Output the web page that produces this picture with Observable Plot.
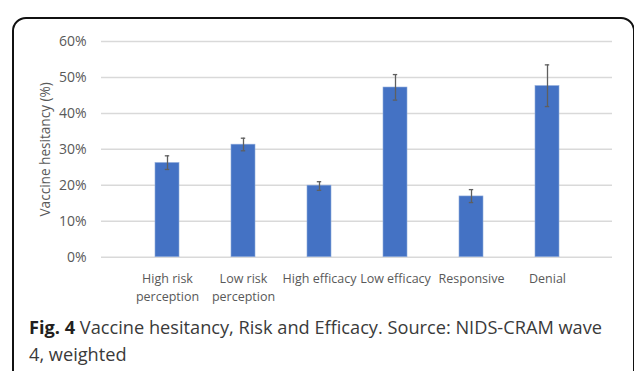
<!DOCTYPE html>
<html>
<head>
<meta charset="utf-8">
<script src="https://cdn.jsdelivr.net/npm/d3@7"></script>
<script src="https://cdn.jsdelivr.net/npm/@observablehq/plot@0.6"></script>
<style>
  html, body { margin: 0; padding: 0; background: #fff; }
  #wrap { position: relative; width: 634px; height: 371px; overflow: hidden; font-family: "Open Sans", sans-serif; }
  #frame { position: absolute; left: 12px; top: 17px; width: 619px; height: 420px; border: 2px solid #111; border-radius: 14px; }
  #chart { position: absolute; left: 0; top: 0; }
  #caption { position: absolute; left: 29px; top: 314px; width: 600px; font-size: 18.2px; line-height: 27px; color: #3a3a3a; white-space: nowrap; }
  #caption b { color: #231f20; }
</style>
</head>
<body>
<div id="wrap">
  <div id="frame"></div>
  <div id="chart"></div>
  <div id="caption"><div><b>Fig. 4</b> <span>Vaccine hesitancy, Risk and Efficacy. Source: NIDS-CRAM wave</span></div><div>4, weighted</div></div>
</div>
<script>
const categories = ["High risk perception", "Low risk perception", "High efficacy", "Low efficacy", "Responsive", "Denial"];
const tickLabels = ["High risk\nperception", "Low risk\nperception", "High efficacy", "Low efficacy", "Responsive", "Denial"];
const values = [26.2, 31.3, 19.9, 47.2, 16.9, 47.6];
const errLow = [24.4, 29.6, 18.6, 43.7, 15.2, 41.9];
const errHigh = [28.2, 33.1, 21.0, 50.8, 18.8, 53.5];
const yTicks = [0, 10, 20, 30, 40, 50, 60];

const data = categories.map((c, i) => ({cat: c, v: values[i], lo: errLow[i], hi: errHigh[i]}));
const labelOf = new Map(categories.map((c, i) => [c, tickLabels[i]]));

const chart = Plot.plot({
  width: 634,
  height: 310,
  marginLeft: 101,
  marginRight: 22,
  marginTop: 41,
  marginBottom: 53.3,
  style: {fontFamily: "Open Sans, sans-serif", fontSize: "13px", color: "#595959", background: "transparent"},
  x: {domain: categories, padding: 0.686},
  y: {domain: [0, 60]},
  marks: [
    Plot.ruleY(yTicks, {stroke: "#d9d9d9", strokeWidth: 1.5}),
    Plot.barY(data, {x: "cat", y: "v", fill: "#4472c4", stroke: "#8eaadb", strokeWidth: 0.6}),
    Plot.ruleX(data, {x: "cat", y1: "lo", y2: "hi", stroke: "#5f5f5f", strokeWidth: 1.3}),
    Plot.tickY(data, {x: "cat", y: "lo", stroke: "#5f5f5f", strokeWidth: 1.3, insetLeft: 9.8, insetRight: 9.8}),
    Plot.tickY(data, {x: "cat", y: "hi", stroke: "#5f5f5f", strokeWidth: 1.3, insetLeft: 9.8, insetRight: 9.8}),
    Plot.axisY({ticks: yTicks, tickSize: 0, tickPadding: 15, tickFormat: d => d + "%", label: null, fill: "#595959", fontSize: 14}),
    Plot.axisX({tickSize: 0, tickPadding: 12, tickFormat: d => labelOf.get(d), label: null, fill: "#595959", fontSize: 12.5, lineHeight: 1.5}),
    Plot.text(["Vaccine hesitancy (%)"], {frameAnchor: "left", dx: -56, rotate: -90, textAnchor: "middle", fill: "#595959", fontSize: 13.6})
  ]
});
document.getElementById("chart").appendChild(chart);
</script>
</body>
</html>
